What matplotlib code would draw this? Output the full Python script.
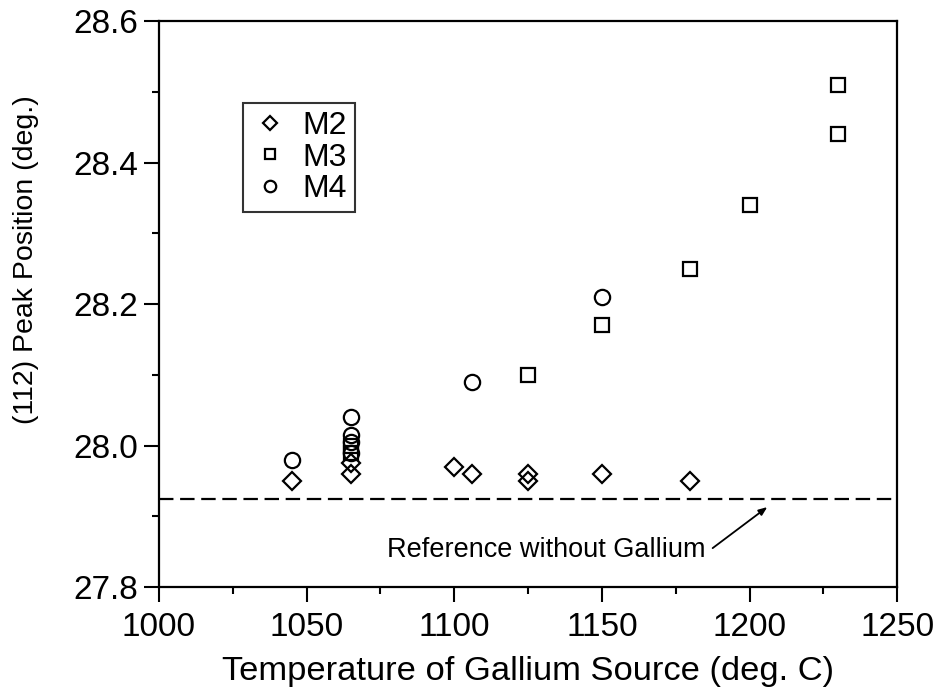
import numpy as np
from matplotlib import pyplot as plt

plt.rcParams['font.family'] = ['Liberation Sans', 'DejaVu Sans']

# temperature of Ga source (deg C) and (112) peak position (deg)
m2_temp = [1045, 1065, 1065, 1100, 1106, 1125, 1125, 1150, 1180]
m2_peak = [27.95, 27.975, 27.96, 27.97, 27.96, 27.96, 27.95, 27.96, 27.95]

m3_temp = [1065, 1065, 1125, 1150, 1180, 1200, 1230, 1230]
m3_peak = [28.00, 27.99, 28.10, 28.17, 28.25, 28.34, 28.44, 28.51]

m4_temp = [1045, 1065, 1065, 1065, 1065, 1106, 1150]
m4_peak = [27.98, 28.04, 28.015, 28.005, 27.99, 28.09, 28.21]

ref_peak = 27.925  # without gallium

fig = plt.figure(figsize=(9.38, 6.89), dpi=100)
ax = fig.add_axes([0.1695, 0.148, 0.787, 0.8215])

mk = dict(linestyle='none', markerfacecolor='none', markeredgecolor='black', markeredgewidth=1.6)
ax.plot(m2_temp, m2_peak, marker='D', markersize=9, label='M2', **mk)
ax.plot(m3_temp, m3_peak, marker='s', markersize=10, label='M3', **mk)
ax.plot(m4_temp, m4_peak, marker='o', markersize=11, label='M4', **mk)

ax.axhline(ref_peak, color='black', linewidth=1.6, dashes=(6.5, 3.0))
ax.text(1131, 27.852, 'Reference without Gallium', ha='center', va='center', fontsize=19.5)
ax.annotate('', xy=(1206, 27.913), xytext=(1187.5, 27.855),
            arrowprops=dict(arrowstyle='-|>,head_length=0.5,head_width=0.2', color='black',
                            linewidth=1.3, shrinkA=0, shrinkB=0))

ax.set_xlim(1000, 1250)
ax.set_ylim(27.8, 28.6)
ax.set_xticks(np.arange(1000, 1251, 50))
ax.set_xticks(np.arange(1025, 1250, 50), minor=True)
ax.set_yticks([27.8, 28.0, 28.2, 28.4, 28.6])
ax.set_yticks([27.9, 28.1, 28.3, 28.5], minor=True)
ax.set_yticklabels(['27.8', '28.0', '28.2', '28.4', '28.6'])

ax.tick_params(which='major', direction='out', length=11, width=1.5, labelsize=24)
ax.tick_params(axis='x', which='major', pad=7)
ax.tick_params(axis='y', which='major', pad=4)
ax.tick_params(which='minor', direction='out', length=5, width=1.5)
for s in ax.spines.values():
    s.set_linewidth(1.6)

ax.set_xlabel('Temperature of Gallium Source (deg. C)', fontsize=24.8, labelpad=9)
ax.set_ylabel('(112) Peak Position (deg.)', fontsize=20.5)
# label sits above the axis centre in the original
ax.yaxis.set_label_coords(-0.163, 0.578)

leg = ax.legend(loc='upper left', bbox_to_anchor=(0.114, 0.855), borderaxespad=0,
                fontsize=23, fancybox=False, markerscale=0.75, handletextpad=0.4,
                labelspacing=0.05, handlelength=1.2, borderpad=0.25)
leg.get_frame().set_edgecolor('black')
leg.get_frame().set_linewidth(1.5)

plt.savefig('out.png', dpi=100)
